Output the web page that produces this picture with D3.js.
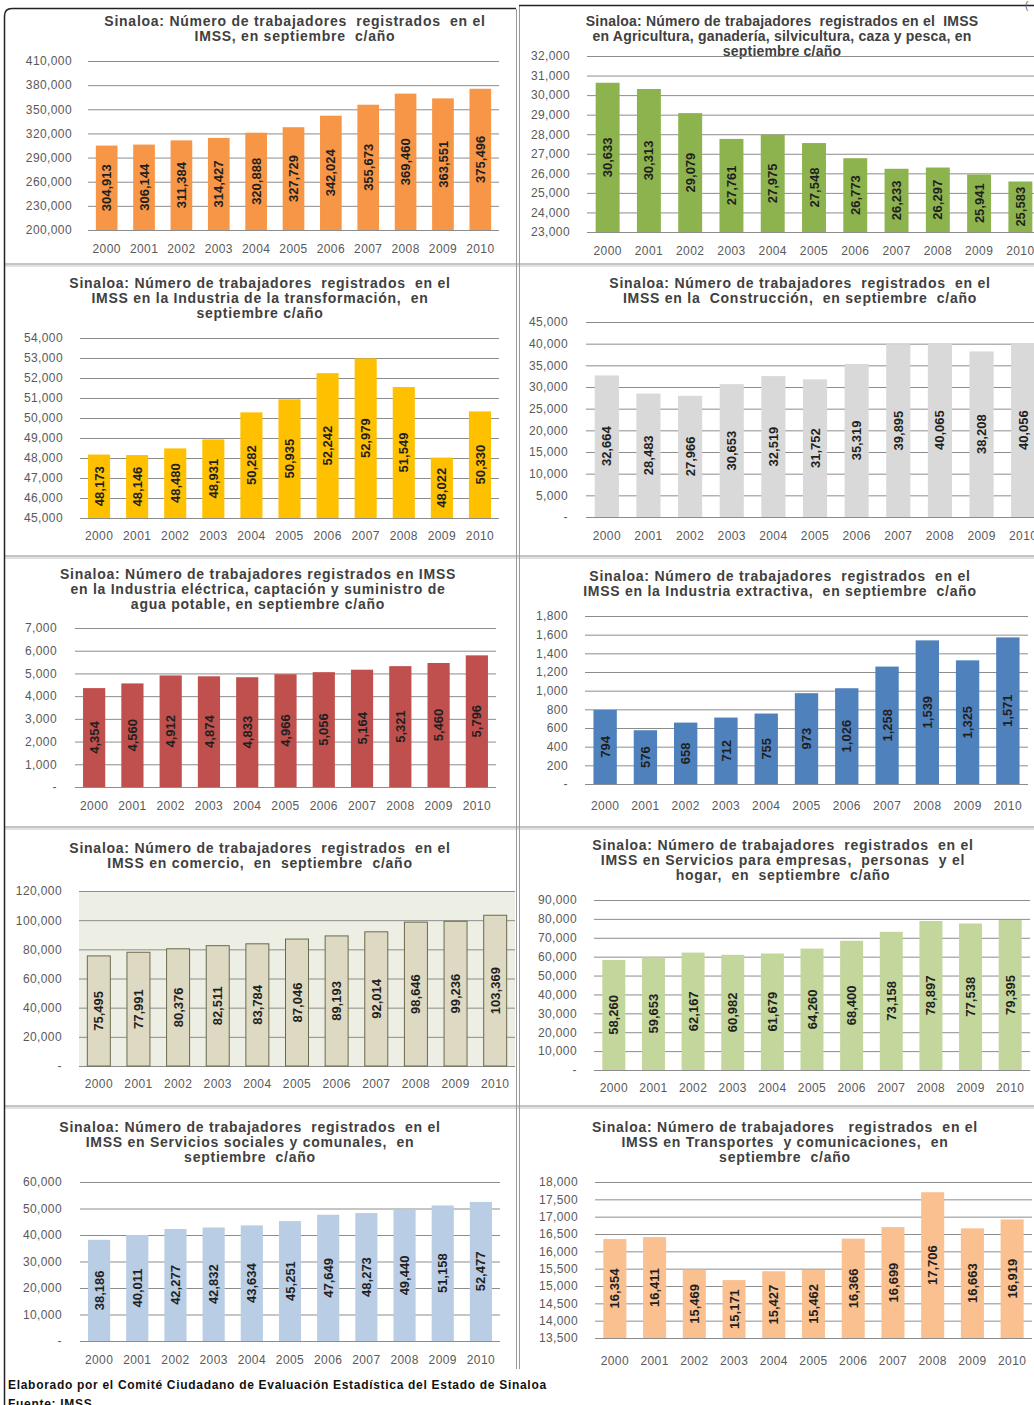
<!DOCTYPE html>
<html>
<head>
<meta charset="utf-8">
<script src="https://cdn.jsdelivr.net/npm/d3@7"></script>
<style>
  body { margin: 0; background: #fff; }
  svg { display: block; font-family: "Liberation Sans", Arial, sans-serif; }
  .title { font-weight: bold; fill: #404040; white-space: pre; font-size: 14px; }
  .axis text { fill: #595959; font-size: 12px; letter-spacing: 0.4px; }
  .axis .domain { display: none; }
  .grid line { stroke: #8c8c8c; }
  .lbl { font-weight: bold; font-size: 13px; fill: #1f1f1f; }
</style>
</head>
<body>
<svg width="1034" height="1405"></svg>
<script>
// Data
const years = ["2000", "2001", "2002", "2003", "2004", "2005", "2006", "2007", "2008", "2009", "2010"];

const totalValues = [304913, 306144, 311384, 314427, 320888, 327729, 342024, 355673, 369460, 363551, 375496];
const totalTicks = [200000, 230000, 260000, 290000, 320000, 350000, 380000, 410000];

const agroValues = [30633, 30313, 29079, 27761, 27975, 27548, 26773, 26233, 26297, 25941, 25583];
const agroTicks = [23000, 24000, 25000, 26000, 27000, 28000, 29000, 30000, 31000, 32000];

const transfValues = [48173, 48146, 48480, 48931, 50282, 50935, 52242, 52979, 51549, 48022, 50330];
const transfTicks = [45000, 46000, 47000, 48000, 49000, 50000, 51000, 52000, 53000, 54000];

const constrValues = [32664, 28483, 27966, 30653, 32519, 31752, 35319, 39895, 40065, 38208, 40056];
const constrTicks = [0, 5000, 10000, 15000, 20000, 25000, 30000, 35000, 40000, 45000];

const electValues = [4354, 4560, 4912, 4874, 4833, 4966, 5056, 5164, 5321, 5460, 5796];
const electTicks = [0, 1000, 2000, 3000, 4000, 5000, 6000, 7000];

const extrValues = [794, 576, 658, 712, 755, 973, 1026, 1258, 1539, 1325, 1571];
const extrTicks = [0, 200, 400, 600, 800, 1000, 1200, 1400, 1600, 1800];

const comValues = [75495, 77991, 80376, 82511, 83784, 87046, 89193, 92014, 98646, 99236, 103369];
const comTicks = [0, 20000, 40000, 60000, 80000, 100000, 120000];

const servEmpValues = [58260, 59653, 62167, 60982, 61679, 64260, 68400, 73158, 78897, 77538, 79395];
const servEmpTicks = [0, 10000, 20000, 30000, 40000, 50000, 60000, 70000, 80000, 90000];

const servSocValues = [38186, 40011, 42277, 42832, 43634, 45251, 47649, 48273, 49440, 51158, 52477];
const servSocTicks = [0, 10000, 20000, 30000, 40000, 50000, 60000];

const transpValues = [16354, 16411, 15469, 15171, 15427, 15462, 16366, 16699, 17706, 16663, 16919];
const transpTicks = [13500, 14000, 14500, 15000, 15500, 16000, 16500, 17000, 17500, 18000];

// Titles
const totalTitle = ["Sinaloa: Número de trabajadores  registrados  en el", "IMSS, en septiembre  c/año"];
const agroTitle = ["Sinaloa: Número de trabajadores  registrados en el  IMSS", "en Agricultura, ganadería, silvicultura, caza y pesca, en", "septiembre c/año"];
const transfTitle = ["Sinaloa: Número de trabajadores  registrados  en el", "IMSS en la Industria de la transformación,  en", "septiembre c/año"];
const constrTitle = ["Sinaloa: Número de trabajadores  registrados  en el", "IMSS en la  Construcción,  en septiembre  c/año"];
const electTitle = ["Sinaloa: Número de trabajadores registrados en IMSS", "en la Industria eléctrica, captación y suministro de", "agua potable, en septiembre c/año"];
const extrTitle = ["Sinaloa: Número de trabajadores  registrados  en el", "IMSS en la Industria extractiva,  en septiembre  c/año"];
const comTitle = ["Sinaloa: Número de trabajadores  registrados  en el", "IMSS en comercio,  en  septiembre  c/año"];
const servEmpTitle = ["Sinaloa: Número de trabajadores  registrados  en el", "IMSS en Servicios para empresas,  personas  y el", "hogar,  en  septiembre  c/año"];
const servSocTitle = ["Sinaloa: Número de trabajadores  registrados  en el", "IMSS en Servicios sociales y comunales,  en", "septiembre  c/año"];
const transpTitle = ["Sinaloa: Número de trabajadores   registrados  en el", "IMSS en Transportes  y comunicaciones,  en", "septiembre  c/año"];

// Panels (layout + style)
const panels = [
  { title: totalTitle, values: totalValues, ticks: totalTicks, color: "#F79646",
    left: 88, right: 499, top: 61, bottom: 230, tickX: 72, xLabelY: 248, titleX: 295, titleY: 21 },
  { title: agroTitle, values: agroValues, ticks: agroTicks, color: "#8DB34E", titleSpacing: 0.2,
    left: 587, right: 1041, top: 56, bottom: 232, tickX: 570, xLabelY: 250, titleX: 782, titleY: 21 },
  { title: transfTitle, values: transfValues, ticks: transfTicks, color: "#FFC000",
    left: 80, right: 499, top: 338, bottom: 518, tickX: 63, xLabelY: 535, titleX: 260, titleY: 283 },
  { title: constrTitle, values: constrValues, ticks: constrTicks, color: "#D9D9D9",
    left: 586, right: 1044, top: 322, bottom: 517, tickX: 568, xLabelY: 535, titleX: 800, titleY: 283 },
  { title: electTitle, values: electValues, ticks: electTicks, color: "#C0504D",
    left: 75, right: 496, top: 628, bottom: 787, tickX: 57, xLabelY: 805, titleX: 258, titleY: 574 },
  { title: extrTitle, values: extrValues, ticks: extrTicks, color: "#4F81BD",
    left: 585, right: 1028, top: 616, bottom: 784, tickX: 568, xLabelY: 805, titleX: 780, titleY: 576 },
  { title: comTitle, values: comValues, ticks: comTicks, color: "#DDD9C3", stroke: "#6b6b4b", bg: "#EEEFE4",
    left: 79, right: 515, top: 891, bottom: 1066, tickX: 62, xLabelY: 1083, titleX: 260, titleY: 848 },
  { title: servEmpTitle, values: servEmpValues, ticks: servEmpTicks, color: "#C3D69B",
    left: 594, right: 1030, top: 900, bottom: 1070, tickX: 577, xLabelY: 1087, titleX: 783, titleY: 845 },
  { title: servSocTitle, values: servSocValues, ticks: servSocTicks, color: "#B9CDE5",
    left: 80, right: 500, top: 1182, bottom: 1341, tickX: 62, xLabelY: 1359, titleX: 250, titleY: 1127 },
  { title: transpTitle, values: transpValues, ticks: transpTicks, color: "#FAC090",
    left: 595, right: 1032, top: 1182, bottom: 1338, tickX: 578, xLabelY: 1360, titleX: 785, titleY: 1127 }
];

const svg = d3.select("svg");
const fmt = d3.format(",");

// Frames
const frame = svg.append("g").attr("fill", "none");
const rowEdges = [265, 557, 828, 1107];
rowEdges.forEach(y => {
  frame.append("line").attr("x1", 4).attr("x2", 1034).attr("y1", y - 1).attr("y2", y - 1).attr("stroke", "#8a8a8a");
  frame.append("line").attr("x1", 4).attr("x2", 1034).attr("y1", y + 1).attr("y2", y + 1).attr("stroke", "#c4c4c4");
});
frame.append("line").attr("x1", 516.5).attr("x2", 516.5).attr("y1", 9).attr("y2", 1369).attr("stroke", "#9a9a9a");
frame.append("line").attr("x1", 519.5).attr("x2", 519.5).attr("y1", 6).attr("y2", 1369).attr("stroke", "#9a9a9a");
frame.append("path").attr("d", "M4.5,1405 V16 Q4.5,8.5 12,8.5 H516").attr("stroke", "#222").attr("stroke-width", 1.5);
frame.append("line").attr("x1", 519).attr("x2", 1034).attr("y1", 5.5).attr("y2", 5.5).attr("stroke", "#222").attr("stroke-width", 1.5);
svg.append("text").attr("x", 1025).attr("y", 9).attr("font-size", 10).attr("fill", "#666").text("(");

panels.forEach(p => {
  const g = svg.append("g");
  const x = d3.scaleBand().domain(years).range([p.left, p.right]).paddingInner(0.42).paddingOuter(0.21);
  const y = d3.scaleLinear().domain([p.ticks[0], p.ticks[p.ticks.length - 1]]).range([p.bottom, p.top]);

  if (p.bg) {
    g.append("rect").attr("x", p.left).attr("y", p.top).attr("width", p.right - p.left)
      .attr("height", p.bottom - p.top).attr("fill", p.bg);
  }

  // Title
  g.append("text").attr("class", "title").attr("text-anchor", "middle")
    .style("letter-spacing", `${p.titleSpacing ?? 0.75}px`)
    .selectAll("tspan").data(p.title).join("tspan")
      .attr("x", p.titleX).attr("y", (d, i) => p.titleY + 5 + i * 15).text(d => d);

  // y axis with grid
  g.append("g").attr("class", "axis grid")
    .attr("transform", `translate(${p.left}, 0)`)
    .call(d3.axisLeft(y).tickValues(p.ticks).tickSize(-(p.right - p.left)).tickSizeOuter(0)
      .tickPadding(p.left - p.tickX).tickFormat(d => d === 0 ? "-" : fmt(d)));

  // x axis
  g.append("g").attr("class", "axis")
    .attr("transform", `translate(0, ${p.bottom})`)
    .call(d3.axisBottom(x).tickSize(0).tickPadding(p.xLabelY - p.bottom - 4))
    .selectAll("text").attr("dy", "0.71em");

  // Bars
  g.selectAll("rect.bar").data(p.values).join("rect").attr("class", "bar")
    .attr("x", (d, i) => x(years[i]))
    .attr("y", d => y(d))
    .attr("width", x.bandwidth())
    .attr("height", d => y(p.ticks[0]) - y(d))
    .attr("fill", p.color)
    .attr("stroke", p.stroke || "none");

  // Value labels
  g.selectAll("text.lbl").data(p.values).join("text").attr("class", "lbl")
    .attr("text-anchor", "middle").attr("dy", "0.35em")
    .attr("transform", (d, i) => {
      const cx = x(years[i]) + x.bandwidth() / 2;
      const cy = (y(d) + y(p.ticks[0])) / 2;
      return `translate(${cx}, ${cy}) rotate(-90)`;
    })
    .text(d => fmt(d));
});

// Footer
svg.append("text").attr("x", 8).attr("y", 1389).attr("font-size", 12).attr("font-weight", "bold")
  .style("letter-spacing", "0.7px")
  .attr("fill", "#111").text("Elaborado por el Comité Ciudadano de Evaluación Estadística del Estado de Sinaloa");
svg.append("text").attr("x", 8).attr("y", 1408).attr("font-size", 12).attr("font-weight", "bold")
  .style("letter-spacing", "0.7px")
  .attr("fill", "#111").text("Fuente: IMSS");
</script>
</body>
</html>
